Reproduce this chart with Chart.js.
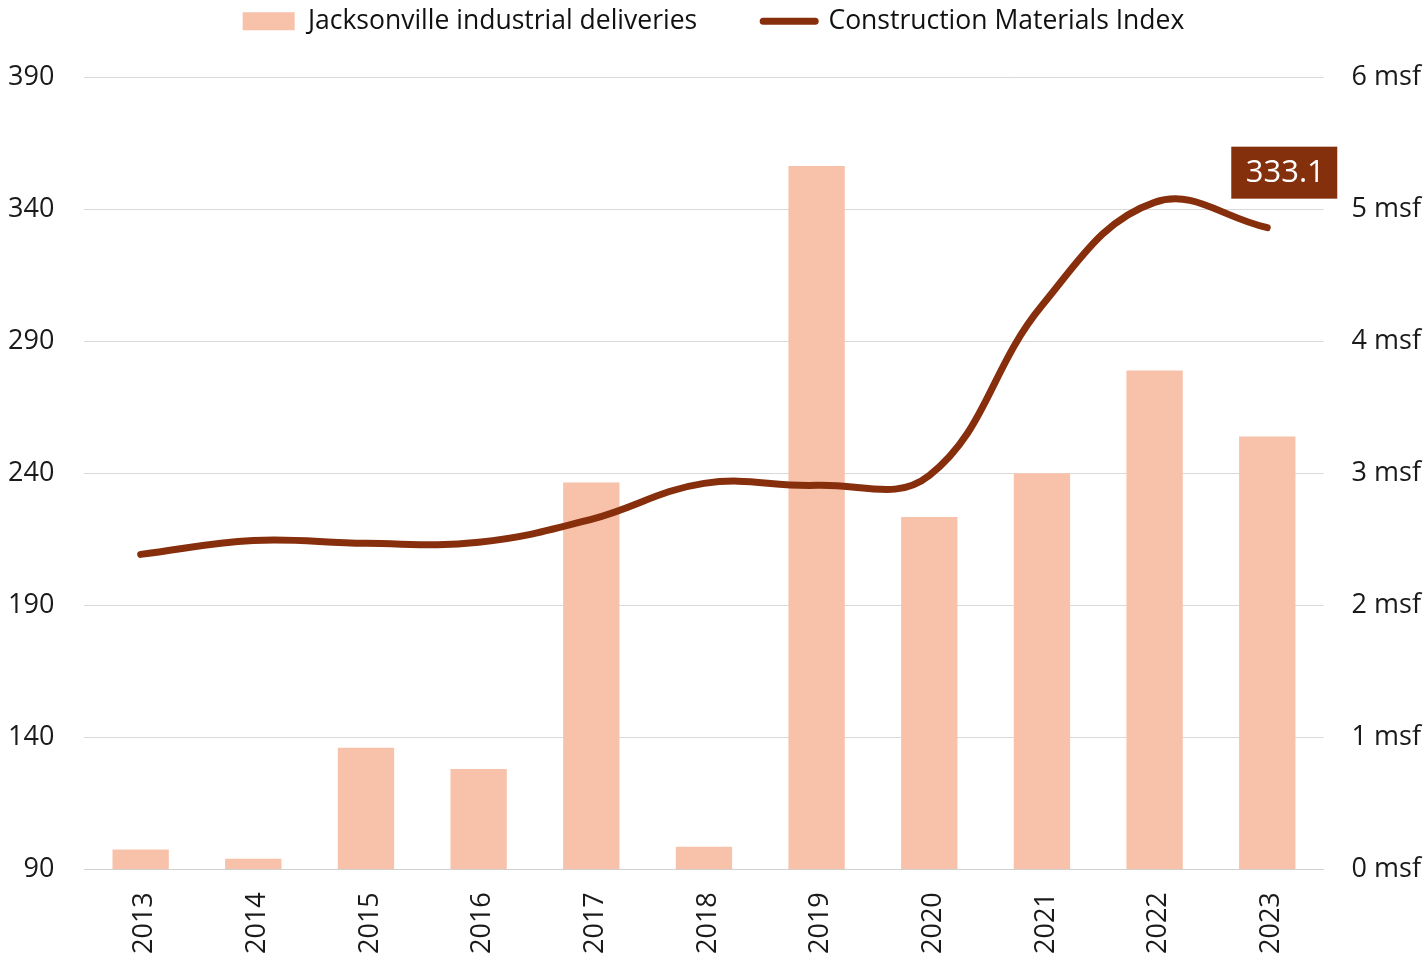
<!DOCTYPE html>
<html>
<head>
<meta charset="utf-8">
<script src="https://cdn.jsdelivr.net/npm/chart.js@4"></script>
<style>
  html, body { margin: 0; padding: 0; background: #fff; }
  #wrap { width: 1427px; height: 962px; }
</style>
</head>
<body>
<div id="wrap"><canvas id="canvas" width="1427" height="962"></canvas></div>
<script>
// years on the x axis
const years = ['2013', '2014', '2015', '2016', '2017', '2018', '2019', '2020', '2021', '2022', '2023'];
// deliveries, million square feet (right axis)
const deliveries = [0.15, 0.08, 0.92, 0.76, 2.93, 0.17, 5.33, 2.67, 3.0, 3.78, 3.28];
// construction materials index (left axis)
const materialsIndex = [209.3, 214.6, 213.5, 213.9, 222.6, 236.2, 235.5, 239.2, 303.6, 342.7, 333.1];

const BAR_COLOR = '#F8C1AA';
const LINE_COLOR = '#872F0D';
const FONT = "'Open Sans', 'Noto Sans', sans-serif";

Chart.defaults.font.family = FONT;
Chart.defaults.color = '#1a1a1a';

// draws the boxed value label above the last point of the index line
const lastValueLabel = {
    id: 'lastValueLabel',
    afterDatasetsDraw(chart) {
        const meta = chart.getDatasetMeta(1);
        const pt = meta.data[meta.data.length - 1];
        const value = materialsIndex[materialsIndex.length - 1];
        const ctx = chart.ctx;
        ctx.save();
        ctx.fillStyle = '#84300C';
        ctx.fillRect(pt.x - 36, pt.y - 81, 106, 52);
        ctx.fillStyle = '#fff';
        ctx.font = '31px ' + FONT;
        ctx.textAlign = 'center';
        ctx.textBaseline = 'middle';
        ctx.fillText(value.toFixed(1), pt.x + 18, pt.y - 54);
        ctx.restore();
    }
};

// the legend padding is also used vertically, give the plot some extra room under it
const legendSpace = {
    id: 'legendSpace',
    beforeInit(chart) {
        const fit = chart.legend.fit;
        chart.legend.fit = function () {
            fit.bind(chart.legend)();
            this.height += 33;
        };
    }
};

const ctx = document.getElementById('canvas').getContext('2d');
new Chart(ctx, {
    type: 'bar',
    data: {
        labels: years,
        datasets: [{
            type: 'bar',
            label: 'Jacksonville industrial deliveries',
            data: deliveries,
            backgroundColor: BAR_COLOR,
            yAxisID: 'yRight',
            barPercentage: 0.5,
            categoryPercentage: 1,
            order: 1
        }, {
            type: 'line',
            label: 'Construction Materials Index',
            data: materialsIndex,
            borderColor: LINE_COLOR,
            backgroundColor: LINE_COLOR,
            borderWidth: 7,
            borderCapStyle: 'round',
            tension: 0.4,
            pointRadius: 0,
            pointHoverRadius: 0,
            yAxisID: 'yLeft',
            order: 0
        }]
    },
    options: {
        responsive: false,
        animation: false,
        layout: { padding: { left: -22, right: -22, top: -58, bottom: -15 } },
        plugins: {
            tooltip: { enabled: false },
            legend: {
                position: 'top',
                labels: {
                    usePointStyle: true,
                    pointStyleWidth: 52,
                    boxHeight: 18,
                    padding: 66,
                    color: '#111',
                    font: { size: 26.5 },
                    generateLabels(chart) {
                        const items = Chart.defaults.plugins.legend.labels.generateLabels(chart);
                        items.sort((a, b) => a.datasetIndex - b.datasetIndex);
                        items.forEach(it => {
                            if (it.datasetIndex === 0) {
                                it.pointStyle = 'rect';
                                it.lineWidth = 0;
                            } else {
                                it.pointStyle = 'line';
                                it.lineWidth = 7;
                                it.lineCap = 'round';
                            }
                        });
                        return items;
                    }
                }
            }
        },
        scales: {
            x: {
                grid: { display: false, drawTicks: false },
                border: { color: '#d0d0d0' },
                ticks: {
                    font: { size: 27 },
                    maxRotation: 90,
                    minRotation: 90,
                    padding: 23,
                    labelOffset: 4
                }
            },
            yLeft: {
                position: 'left',
                min: 90,
                max: 390,
                grid: { color: '#d9d9d9', drawTicks: false },
                border: { display: false },
                ticks: { stepSize: 50, font: { size: 27 }, padding: 30 }
            },
            yRight: {
                position: 'right',
                min: 0,
                max: 6,
                grid: { display: false, drawTicks: false },
                border: { display: false },
                ticks: {
                    stepSize: 1,
                    font: { size: 27 },
                    padding: 28,
                    callback: v => v + ' msf'
                }
            }
        }
    },
    plugins: [lastValueLabel, legendSpace]
});
</script>
</body>
</html>
